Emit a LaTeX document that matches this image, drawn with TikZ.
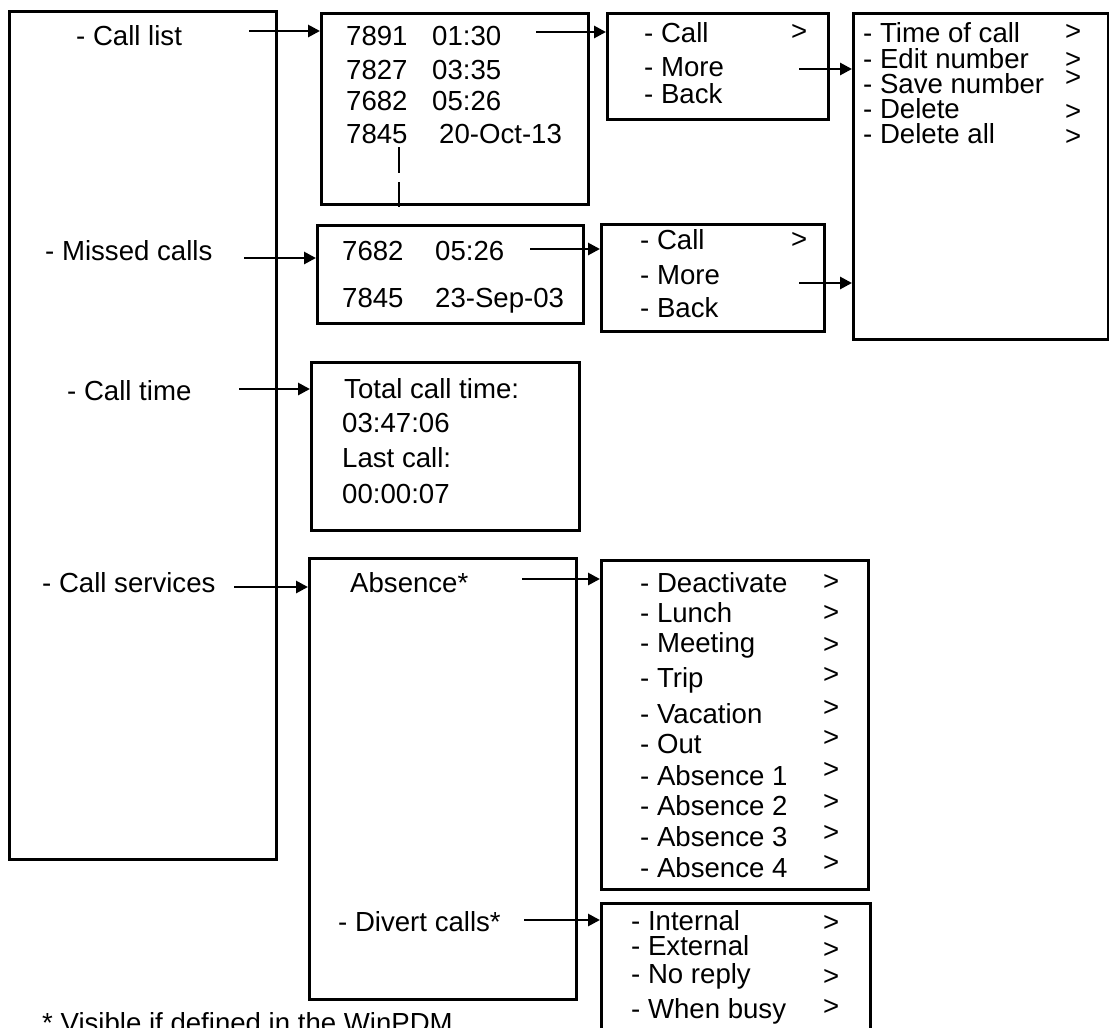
\documentclass[tikz,border=0pt]{standalone}
\usepackage{fontspec}
\setmainfont{Liberation Sans}
\usetikzlibrary{arrows.meta}
\begin{document}
\begin{tikzpicture}[x=1pt,y=-1pt,
  menubox/.style={draw, line width=3pt, inner sep=0pt, anchor=north west},
  lbl/.style={inner sep=0pt, anchor=base west, font=\fontsize{27.6}{32}\selectfont},
  conn/.style={line width=2.8pt, -{Triangle[length=12pt,width=12pt]}},
  dashconn/.style={line width=1.6pt, dash pattern=on 26pt off 9pt}]
\clip (0,0) rectangle (1109,1028);
\fill[white] (0,0) rectangle (1109,1028);

% boxes
\node[menubox, minimum width=267pt, minimum height=848pt] (mainmenu) at (8,10) {};
\node[menubox, minimum width=267pt, minimum height=191pt] (calllist) at (320,12) {};
\node[menubox, minimum width=221pt, minimum height=106pt] (subone) at (606,12) {};
\node[menubox, minimum width=255pt, minimum height=326pt] (morebox) at (852,12) {};
\node[menubox, minimum width=266pt, minimum height=98pt] (missed) at (316,224) {};
\node[menubox, minimum width=223pt, minimum height=107pt] (subtwo) at (600,223) {};
\node[menubox, minimum width=268pt, minimum height=168pt] (calltime) at (310,361) {};
\node[menubox, minimum width=267pt, minimum height=441pt] (services) at (308,557) {};
\node[menubox, minimum width=267pt, minimum height=329pt] (absub) at (600,559) {};
\node[menubox, minimum width=269pt, minimum height=150pt] (divsub) at (600,902) {};

% main menu labels
\node[lbl] (lcalllist) at (76,45) {- Call list};
\node[lbl] (lmissed) at (45,260) {- Missed calls};
\node[lbl] (lcalltime) at (67,400) {- Call time};
\node[lbl] (lservices) at (42,592) {- Call services};

% call list
\node[lbl] (ca) at (346,45) {7891};
\node[lbl] (cat) at (432,45) {01:30};
\node[lbl] (cb) at (346,79) {7827};
\node[lbl] (cbt) at (432,79) {03:35};
\node[lbl] (cc) at (346,110) {7682};
\node[lbl] (cct) at (432,110) {05:26};
\node[lbl] (cd) at (346,143) {7845};
\node[lbl] (cdt) at (439,143) {20-Oct-13};

% submenu one
\node[lbl] (sacall) at (644,42) {- Call};
\node[lbl] (sacallg) at (791,40) {>};
\node[lbl] (samore) at (644,76) {- More};
\node[lbl] (saback) at (644,103) {- Back};

% more box
\node[lbl] (ma) at (863,42) {- Time of call};
\node[lbl] (mag) at (1065,40) {>};
\node[lbl] (mb) at (863,68) {- Edit number};
\node[lbl] (mbg) at (1065,68) {>};
\node[lbl] (mc) at (863,93) {- Save number};
\node[lbl] (mcg) at (1065,86) {>};
\node[lbl] (md) at (863,118) {- Delete};
\node[lbl] (mdg) at (1065,120) {>};
\node[lbl] (me) at (863,143) {- Delete all};
\node[lbl] (meg) at (1065,145) {>};

% missed
\node[lbl] (mia) at (342,260) {7682};
\node[lbl] (miat) at (435,260) {05:26};
\node[lbl] (mib) at (342,307) {7845};
\node[lbl] (mibt) at (435,307) {23-Sep-03};

% submenu two
\node[lbl] (sbcall) at (640,249) {- Call};
\node[lbl] (sbcallg) at (791,248) {>};
\node[lbl] (sbmore) at (640,284) {- More};
\node[lbl] (sbback) at (640,317) {- Back};

% call time
\node[lbl] (cta) at (344,398) {Total call time:};
\node[lbl] (ctb) at (342,432) {03:47:06};
\node[lbl] (ctc) at (342,467) {Last call:};
\node[lbl] (ctd) at (342,503) {00:00:07};

% services
\node[lbl] (absence) at (350,592) {Absence*};
\node[lbl] (divert) at (338,931) {- Divert calls*};

% absence submenu
\node[lbl] (aa) at (640,592) {- Deactivate};
\node[lbl] (aag) at (823,590) {>};
\node[lbl] (ab) at (640,622) {- Lunch};
\node[lbl] (abg) at (823,621) {>};
\node[lbl] (ac) at (640,652) {- Meeting};
\node[lbl] (acg) at (823,653) {>};
\node[lbl] (ad) at (640,687) {- Trip};
\node[lbl] (adg) at (823,683) {>};
\node[lbl] (ae) at (640,723) {- Vacation};
\node[lbl] (aeg) at (823,716) {>};
\node[lbl] (af) at (640,753) {- Out};
\node[lbl] (afg) at (823,746) {>};
\node[lbl] (ag) at (640,785) {- Absence 1};
\node[lbl] (agg) at (823,778) {>};
\node[lbl] (ah) at (640,815) {- Absence 2};
\node[lbl] (ahg) at (823,810) {>};
\node[lbl] (ai) at (640,846) {- Absence 3};
\node[lbl] (aig) at (823,841) {>};
\node[lbl] (aj) at (640,877) {- Absence 4};
\node[lbl] (ajg) at (823,871) {>};

% divert submenu
\node[lbl] (da) at (631,930) {- Internal};
\node[lbl] (dag) at (823,931) {>};
\node[lbl] (db) at (631,955) {- External};
\node[lbl] (dbg) at (823,958) {>};
\node[lbl] (dc) at (631,983) {- No reply};
\node[lbl] (dcg) at (823,985) {>};
\node[lbl] (dd) at (631,1018) {- When busy};
\node[lbl] (ddg) at (823,1015) {>};

% footnote
\node[lbl] (foot) at (42,1032) {* Visible if defined in the WinPDM};

% connectors
\coordinate (s1) at (249,31);
\draw[conn] (s1) -- (s1 -| calllist.west);
\coordinate (s2) at (244,258);
\draw[conn] (s2) -- (s2 -| missed.west);
\coordinate (s3) at (239,389);
\draw[conn] (s3) -- (s3 -| calltime.west);
\coordinate (s4) at (234,587);
\draw[conn] (s4) -- (s4 -| services.west);
\coordinate (s5) at (536,32);
\draw[conn] (s5) -- (s5 -| subone.west);
\coordinate (s6) at (799,69);
\draw[conn] (s6) -- (s6 -| morebox.west);
\coordinate (s7) at (530,249);
\draw[conn] (s7) -- (s7 -| subtwo.west);
\coordinate (s8) at (799,283);
\draw[conn] (s8) -- (s8 -| morebox.west);
\coordinate (s9) at (522,579);
\draw[conn] (s9) -- (s9 -| absub.west);
\coordinate (s10) at (524,920);
\draw[conn] (s10) -- (s10 -| divsub.west);
\coordinate (d1) at (399,147);
\coordinate (d2) at (399,207);
\draw[dashconn] (d1) -- (d2);
\end{tikzpicture}
\end{document}
